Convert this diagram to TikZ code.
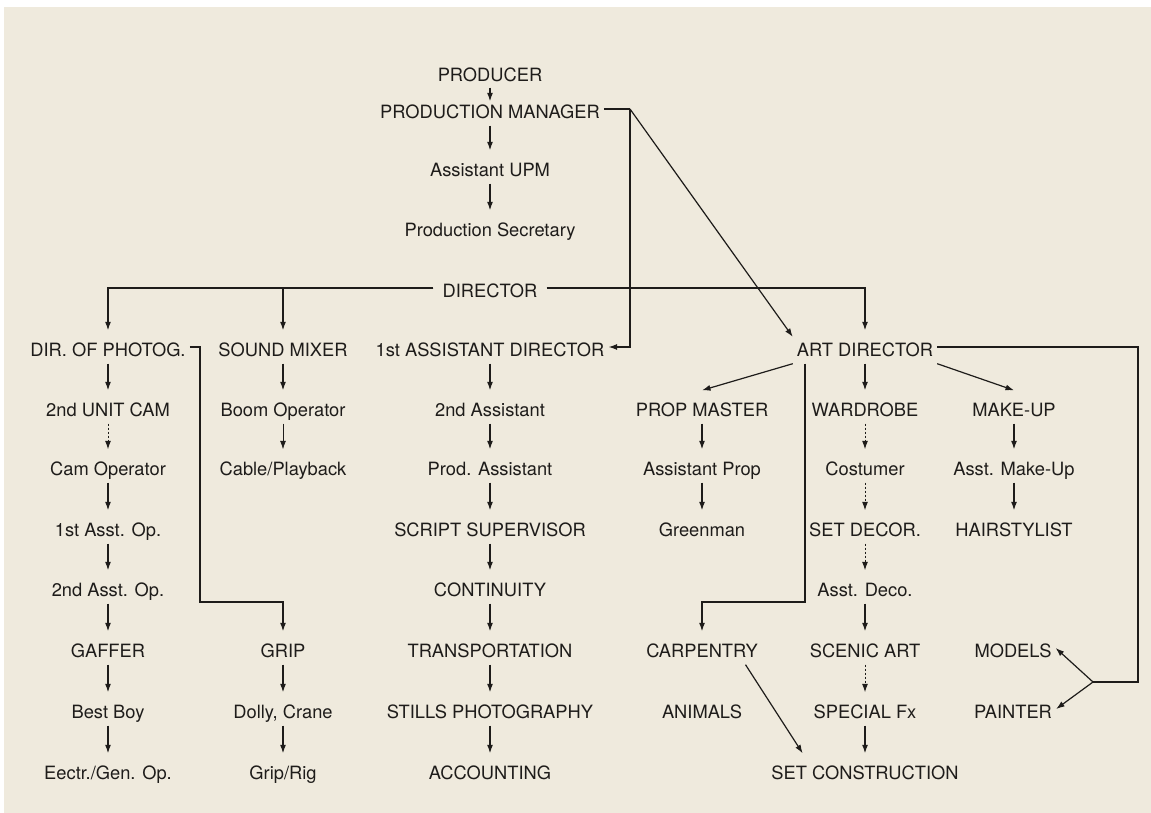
\documentclass[tikz,border=0pt]{standalone}
\usepackage{fontspec}
\setmainfont{TeX Gyre Heros}
\usetikzlibrary{arrows.meta}
\definecolor{bgc}{RGB}{239,234,221}
\definecolor{ink}{RGB}{30,28,26}
\begin{document}
\begin{tikzpicture}[x=1pt,y=-1pt,
  lbl/.style={anchor=base, inner xsep=4pt, inner ysep=0pt, text height=26pt, text depth=7pt, font=\fontsize{18.3}{20}\selectfont, text=ink},
  ln/.style={draw=ink, line width=1.2pt},
  arr/.style={ln, -{Latex[length=8.5pt,width=6pt]}},
  darr/.style={arr, line width=1pt, dash pattern=on 2pt off 2pt},
  tarr/.style={arr, line width=0.8pt}]
\useasboundingbox (0,0) rectangle (1151,813);
\fill[white] (0,0) rectangle (1151,813);
\fill[bgc] (4,7) rectangle (1151,813);

% top chain
\node[lbl] (prod) at (490,81.5) {PRODUCER};
\node[lbl] (pm) at (490,118.5) {PRODUCTION MANAGER};
\node[lbl] (aupm) at (490,176.5) {Assistant UPM};
\node[lbl] (psec) at (490,236.5) {Production Secretary};
\node[lbl, inner xsep=9pt] (dir) at (490,297.5) {DIRECTOR};

% second level
\node[lbl] (dop) at (108,356.5) {DIR. OF PHOTOG.};
\node[lbl] (sm) at (283,356.5) {SOUND MIXER};
\node[lbl] (ad1) at (490,356.5) {1st ASSISTANT DIRECTOR};
\node[lbl] (artd) at (865,356.5) {ART DIRECTOR};

% column 1
\node[lbl] (ucam) at (108,416.5) {2nd UNIT CAM};
\node[lbl] (camop) at (108,475.5) {Cam Operator};
\node[lbl] (aop1) at (108,536.5) {1st Asst. Op.};
\node[lbl] (aop2) at (108,596.5) {2nd Asst. Op.};
\node[lbl] (gaffer) at (108,657.5) {GAFFER};
\node[lbl] (bboy) at (108,718.5) {Best Boy};
\node[lbl] (electr) at (108,779.5) {Eectr./Gen. Op.};

% column 2
\node[lbl] (boom) at (283,416.5) {Boom Operator};
\node[lbl] (cable) at (283,475.5) {Cable/Playback};
\node[lbl] (grip) at (283,657.5) {GRIP};
\node[lbl] (dolly) at (283,718.5) {Dolly, Crane};
\node[lbl] (griprig) at (283,779.5) {Grip/Rig};

% column 3
\node[lbl] (asst2) at (490,416.5) {2nd Assistant};
\node[lbl] (passt) at (490,475.5) {Prod. Assistant};
\node[lbl] (script) at (490,536.5) {SCRIPT SUPERVISOR};
\node[lbl] (cont) at (490,596.5) {CONTINUITY};
\node[lbl] (transp) at (490,657.5) {TRANSPORTATION};
\node[lbl] (stills) at (490,718.5) {STILLS PHOTOGRAPHY};
\node[lbl] (acct) at (490,779.5) {ACCOUNTING};

% column 4
\node[lbl] (prop) at (702,416.5) {PROP MASTER};
\node[lbl] (aprop) at (702,475.5) {Assistant Prop};
\node[lbl] (green) at (702,536.5) {Greenman};
\node[lbl] (carp) at (702,657.5) {CARPENTRY};
\node[lbl] (animals) at (702,718.5) {ANIMALS};

% column 5
\node[lbl] (ward) at (865,416.5) {WARDROBE};
\node[lbl] (cost) at (865,475.5) {Costumer};
\node[lbl] (setdec) at (865,536.5) {SET DECOR.};
\node[lbl] (adeco) at (865,596.5) {Asst. Deco.};
\node[lbl] (scenic) at (865,657.5) {SCENIC ART};
\node[lbl] (sfx) at (865,718.5) {SPECIAL Fx};
\node[lbl] (setc) at (865,779.5) {SET CONSTRUCTION};

% column 6
\node[lbl] (mu) at (1014,416.5) {MAKE-UP};
\node[lbl] (amu) at (1014,475.5) {Asst. Make-Up};
\node[lbl] (hair) at (1014,536.5) {HAIRSTYLIST};
\node[lbl] (models) at (1013,657.5) {MODELS};
\node[lbl] (painter) at (1013,718.5) {PAINTER};

% helper coordinates
\coordinate (pmc) at (630,109);
\coordinate (dpc) at (200,602);
\coordinate (carpc) at (805,602);
\coordinate (mc) at (1138,682);
\coordinate (mb) at (1093,682);

% top chain arrows
\draw[arr, shorten <=-1pt, shorten >=-9pt] (prod) -- (pm);
\draw[arr] (pm) -- (aupm);
\draw[arr] (aupm) -- (psec);

% production manager links
\draw[ln] (pm.east) -- (pmc);
\draw[arr] (pmc) |- (ad1.east);
\draw[arr] (pmc) -- (artd.172);

% director links
\draw[arr] (dir.west) -| (dop);
\draw[arr] (dir.west) -| (sm);
\draw[arr] (dir.east) -| (artd);

% column 1
\draw[arr] (dop) -- (ucam);
\draw[darr] (ucam) -- (camop);
\draw[arr] (camop) -- (aop1);
\draw[arr] (aop1) -- (aop2);
\draw[arr] (aop2) -- (gaffer);
\draw[arr] (gaffer) -- (bboy);
\draw[arr] (bboy) -- (electr);

% column 2
\draw[arr] (sm) -- (boom);
\draw[tarr] (boom) -- (cable);
\draw[arr] (dop.east) -| (dpc) -| (grip);
\draw[arr] (grip) -- (dolly);
\draw[arr] (dolly) -- (griprig);

% column 3
\draw[arr] (ad1) -- (asst2);
\draw[arr] (asst2) -- (passt);
\draw[arr] (passt) -- (script);
\draw[arr] (script) -- (cont);
\draw[arr] (cont) -- (transp);
\draw[arr] (transp) -- (stills);
\draw[arr] (stills) -- (acct);

% art director links
\draw[arr] (artd.south west) -- (prop.north);
\draw[arr] (artd.south east) -- (mu.north);
\draw[arr] (artd) -- (ward);
\draw[arr] (artd.south -| carpc) -- (carpc) -| (carp);
\draw[ln] (artd.east) -| (mc) -- (mb);
\draw[arr] (mb) -- (models.east);
\draw[arr] (mb) -- (painter.east);

% column 4
\draw[arr] (prop) -- (aprop);
\draw[arr] (aprop) -- (green);
\draw[arr] (carp.-21) -- (setc.165);

% column 5
\draw[darr] (ward) -- (cost);
\draw[darr] (cost) -- (setdec);
\draw[darr] (setdec) -- (adeco);
\draw[arr] (adeco) -- (scenic);
\draw[darr] (scenic) -- (sfx);
\draw[arr] (sfx) -- (setc);

% column 6
\draw[arr] (mu) -- (amu);
\draw[arr] (amu) -- (hair);
\end{tikzpicture}
\end{document}
